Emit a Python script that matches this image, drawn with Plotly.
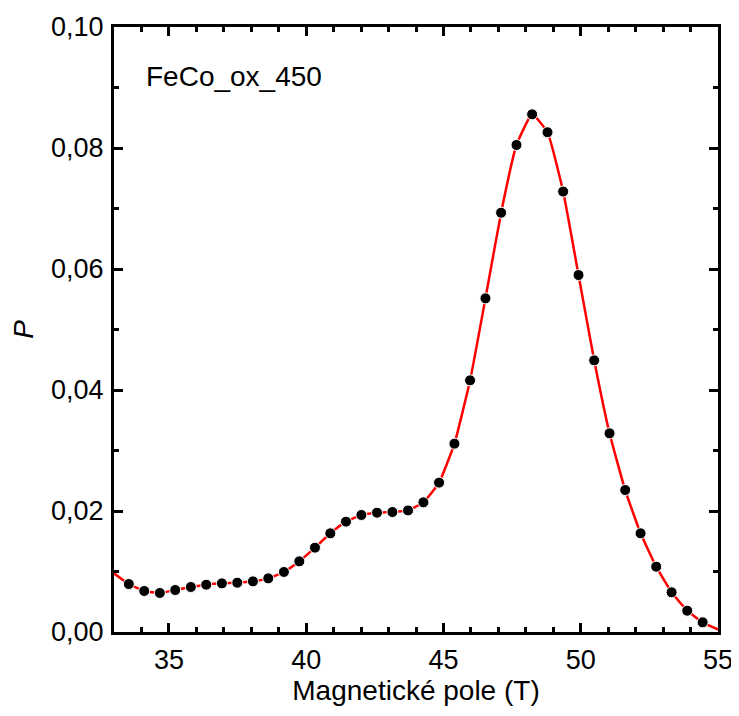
import plotly.graph_objects as go

# Field values (T) of the measured points
field = [33.54, 34.10, 34.67, 35.23, 35.80, 36.36, 36.93, 37.49, 38.06, 38.62,
         39.19, 39.75, 40.32, 40.88, 41.45, 42.01, 42.58, 43.14, 43.71, 44.27,
         44.84, 45.40, 45.97, 46.53, 47.10, 47.66, 48.23, 48.79, 49.36, 49.92,
         50.49, 51.05, 51.62, 52.18, 52.75, 53.31, 53.88, 54.44]
prob = [0.00793, 0.00678, 0.00645, 0.00694, 0.00744, 0.00782, 0.00804, 0.00815, 0.00837, 0.00887,
        0.00992, 0.01168, 0.01394, 0.01631, 0.01824, 0.01934, 0.01972, 0.01983, 0.02010, 0.02143,
        0.02469, 0.03113, 0.04160, 0.05515, 0.06930, 0.08050, 0.08557, 0.08260, 0.07280, 0.05900,
        0.04490, 0.03284, 0.02347, 0.01631, 0.01080, 0.00656, 0.00352, 0.00160]
# points just outside the visible range (only the line reaches the frame)
edge_field_left = [32.97]
edge_prob_left = [0.0098]
edge_field_right = [55.01]
edge_prob_right = [0.0004]

x_ticks = [35, 40, 45, 50, 55]
y_ticks = [0.00, 0.02, 0.04, 0.06, 0.08, 0.10]
label = "FeCo_ox_450"
x_title = "Magnetické pole (T)"
y_title = "<i>P</i>"

font = "Liberation Sans, Arial, sans-serif"

fig = go.Figure()
fig.add_trace(go.Scatter(
    x=edge_field_left + field + edge_field_right,
    y=edge_prob_left + prob + edge_prob_right,
    mode="lines", line=dict(color="#ff0000", width=2.5, shape="spline", smoothing=0.4),
    hoverinfo="skip", showlegend=False))
fig.add_trace(go.Scatter(
    x=field, y=prob, mode="markers",
    marker=dict(color="black", size=11, line=dict(color="white", width=1)),
    showlegend=False))

axis_common = dict(
    showline=True, linecolor="black", linewidth=3, mirror="allticks",
    ticks="inside", ticklen=9, tickwidth=3, tickcolor="black",
    showgrid=False, zeroline=False, automargin=False,
    tickfont=dict(family=font, size=27, color="black"),
)

fig.update_xaxes(
    range=[33, 55], tickvals=x_ticks, ticktext=[str(v) for v in x_ticks],
    minor=dict(ticks="inside", dtick=1, tick0=33, ticklen=5, tickwidth=3, tickcolor="black"),
    title=dict(text=x_title, font=dict(family=font, size=28, color="black"), standoff=4),
    ticklabelstandoff=2,
    **axis_common)
fig.update_yaxes(
    range=[0, 0.10], tickvals=y_ticks, tickformat=".2f",
    minor=dict(ticks="inside", dtick=0.01, tick0=0, ticklen=5, tickwidth=3, tickcolor="black"),
    title=dict(text=y_title, font=dict(family=font, size=28, color="black"), standoff=14),
    ticklabelstandoff=2,
    **axis_common)

fig.add_annotation(
    x=0.05, y=0.918, xref="paper", yref="paper", xanchor="left", yanchor="middle",
    text=label, showarrow=False, font=dict(family=font, size=28, color="black"))

# the page has an 8px body margin, so the figure is offset by 8px
fig.update_layout(
    width=731, height=708, margin=dict(l=106, r=21, t=19, b=84),
    plot_bgcolor="white", paper_bgcolor="white", separators=", ",
)

fig.write_html("out.html")
